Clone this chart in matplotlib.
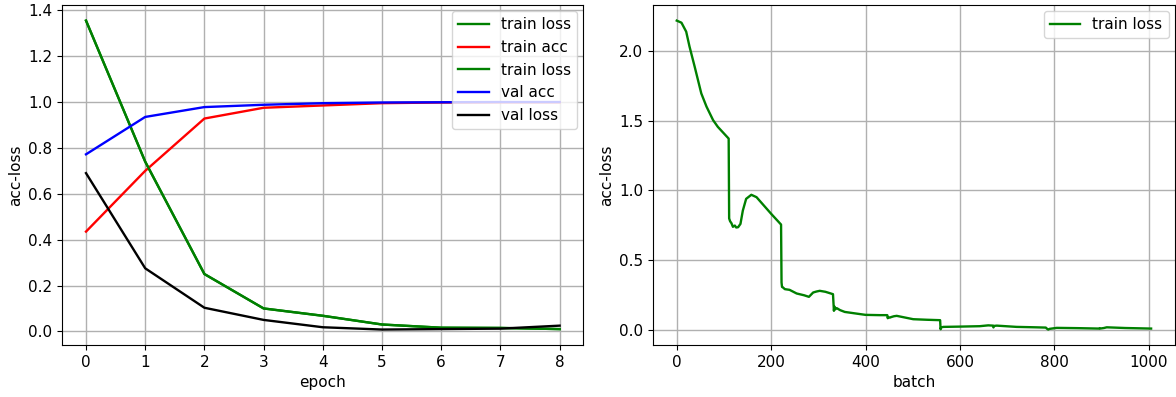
import matplotlib
matplotlib.use("Agg")
import matplotlib.pyplot as plt

# ---- left panel: per-epoch metrics ----
epochs = [0, 1, 2, 3, 4, 5, 6, 7, 8]
train_loss = [1.355, 0.740, 0.250, 0.100, 0.068, 0.030, 0.016, 0.015, 0.010]
train_acc = [0.435, 0.700, 0.928, 0.975, 0.985, 0.995, 0.998, 0.999, 0.999]
val_acc = [0.772, 0.935, 0.978, 0.988, 0.995, 0.998, 0.999, 1.000, 1.000]
val_loss = [0.690, 0.275, 0.103, 0.050, 0.018, 0.008, 0.010, 0.012, 0.025]

# ---- right panel: per-batch train loss ----
batch_x = [0, 10, 20, 27, 38, 52, 63, 77, 87, 110,
           111, 113, 116, 119, 123, 126, 130, 135, 140, 147, 158, 169, 200, 221,
           222, 223, 225, 229, 239, 254, 270, 280, 289, 296, 303, 315, 331,
           333, 334, 336, 339, 346, 356, 381, 400, 430, 446,
           447, 448, 451, 455, 460, 466, 501, 530, 558,
           559, 560, 565, 600, 642, 660, 670,
           671, 672, 678, 720, 760, 782, 784, 787, 790, 805, 850, 894,
           896, 897, 905, 911, 950, 1005]
batch_loss = [2.215, 2.200, 2.136, 2.030, 1.885, 1.694, 1.600, 1.503, 1.455, 1.371,
              0.800, 0.780, 0.765, 0.740, 0.749, 0.735, 0.737, 0.761, 0.856, 0.940, 0.969, 0.952, 0.833, 0.756,
              0.342, 0.310, 0.306, 0.294, 0.289, 0.263, 0.250, 0.239, 0.270, 0.277, 0.282, 0.275, 0.258,
              0.139, 0.170, 0.150, 0.158, 0.144, 0.131, 0.119, 0.110, 0.108, 0.108,
              0.086, 0.095, 0.090, 0.095, 0.100, 0.103, 0.079, 0.075, 0.072,
              0.007, 0.020, 0.024, 0.026, 0.029, 0.035, 0.033,
              0.020, 0.031, 0.033, 0.024, 0.021, 0.019, 0.012, 0.005, 0.010, 0.017, 0.015, 0.012,
              0.015, 0.012, 0.016, 0.021, 0.016, 0.012]

plt.rcParams["font.size"] = 11
plt.rcParams["lines.linewidth"] = 1.7
plt.rcParams["grid.linewidth"] = 1.0

fig = plt.figure(figsize=(11.76, 3.97), dpi=100)
ax1 = fig.add_axes([0.053, 0.131, 0.443, 0.856])
ax2 = fig.add_axes([0.5553, 0.131, 0.4437, 0.856])

ax1.plot(epochs, train_loss, color="g", label="train loss")
ax1.plot(epochs, train_acc, color="r", label="train acc")
ax1.plot(epochs, train_loss, color="g", label="train loss")
ax1.plot(epochs, val_acc, color="b", label="val acc")
ax1.plot(epochs, val_loss, color="k", label="val loss")
ax1.set_xlabel("epoch")
ax1.set_ylabel("acc-loss")
ax1.grid(True)
ax1.legend(loc="upper right", borderaxespad=0.4)

ax2.plot(batch_x, batch_loss, color="g", label="train loss")
ax2.set_xlabel("batch")
ax2.set_ylabel("acc-loss")
ax2.grid(True)
ax2.legend(loc="upper right", borderaxespad=0.4)

fig.savefig("out.png", dpi=100)
